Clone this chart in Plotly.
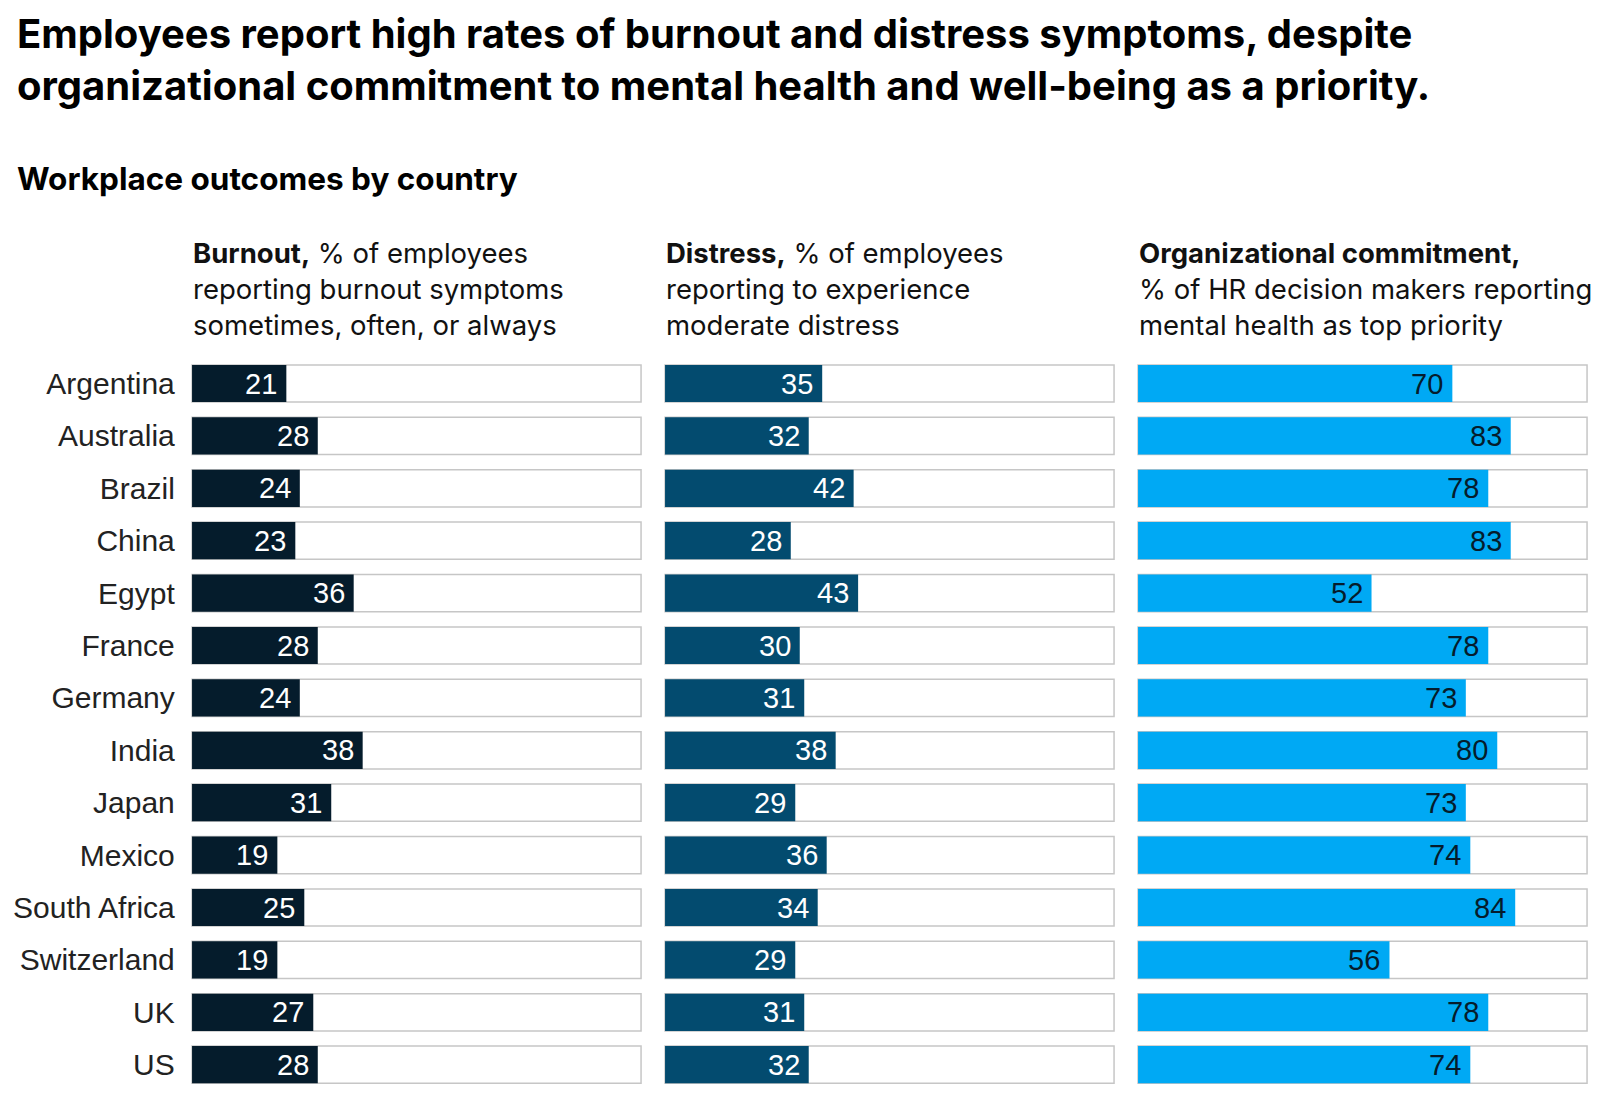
import plotly.graph_objects as go
from plotly.subplots import make_subplots

# Data
countries = ["Argentina", "Australia", "Brazil", "China", "Egypt", "France", "Germany",
             "India", "Japan", "Mexico", "South Africa", "Switzerland", "UK", "US"]
burnout = [21, 28, 24, 23, 36, 28, 24, 38, 31, 19, 25, 19, 27, 28]
distress = [35, 32, 42, 28, 43, 30, 31, 38, 29, 36, 34, 29, 31, 32]
commitment = [70, 83, 78, 83, 52, 78, 73, 80, 73, 74, 84, 56, 78, 74]

headers = [
    "<b>Burnout,</b> % of employees<br>reporting burnout symptoms<br>sometimes, often, or always",
    "<b>Distress,</b> % of employees<br>reporting to experience<br>moderate distress",
    "<b>Organizational commitment,</b><br>% of HR decision makers reporting<br>mental health as top priority",
]
bar_colors = ["#051c2c", "#034b6f", "#00a9f4"]
label_colors = ["white", "white", "#051c2c"]

W, H = 1596, 1104
HEAD_FONT = "Inter, 'Noto Sans', sans-serif"
BODY_FONT = "'Liberation Sans', Arial, sans-serif"

# pixel positions of each panel (left, right)
panels_px = [(181.8, 635.3), (654.8, 1108.3), (1127.8, 1581.3)]
y_top, y_bot = 349.3, 1082.9


def px_x(p):
    return p / W


def px_y(p):
    return 1 - p / H


fig = make_subplots(rows=1, cols=3, shared_yaxes=False)

series = [burnout, distress, commitment]
for i, vals in enumerate(series):
    col = i + 1
    # outline bar spanning 0-100
    fig.add_trace(go.Bar(
        x=[100] * len(countries), y=countries, orientation="h",
        marker=dict(color="white", line=dict(color="#c6c6c6", width=1.5)),
        width=0.71, hoverinfo="skip", showlegend=False
    ), row=1, col=col)
    fig.add_trace(go.Bar(
        x=vals, y=countries, orientation="h",
        marker=dict(color=bar_colors[i], line=dict(width=0)),
        width=0.71, showlegend=False
    ), row=1, col=col)

    xa = "xaxis" if i == 0 else f"xaxis{col}"
    ya = "yaxis" if i == 0 else f"yaxis{col}"
    fig.update_layout({
        xa: dict(domain=[px_x(panels_px[i][0]), px_x(panels_px[i][1])],
                 range=[-0.5, 100.5], visible=False, fixedrange=True),
        ya: dict(domain=[px_y(y_bot), px_y(y_top)],
                 categoryorder="array", categoryarray=countries,
                 range=[13.5, -0.5], showgrid=False, zeroline=False,
                 showline=False, ticks="", showticklabels=(i == 0),
                 ticklabelstandoff=14,
                 tickfont=dict(family=BODY_FONT, size=30, color="#222222")),
    })

    xref = "x" if i == 0 else f"x{col}"
    yref = "y" if i == 0 else f"y{col}"
    for c, v in zip(countries, vals):
        fig.add_annotation(
            x=v, y=c, xref=xref, yref=yref, text=str(v), showarrow=False,
            xanchor="right", yanchor="middle", xshift=-7,
            font=dict(family=BODY_FONT, size=29, color=label_colors[i])
        )

    # column header
    fig.add_annotation(
        x=px_x(panels_px[i][0] + 1), y=px_y(281), xref="paper", yref="paper",
        text=headers[i], showarrow=False, xanchor="left", yanchor="middle",
        align="left", font=dict(family=HEAD_FONT, size=27.5, color="#111111")
    )

# title and subtitle
fig.add_annotation(
    x=px_x(7), y=px_y(51), xref="paper", yref="paper",
    text="<b>Employees report high rates of burnout and distress symptoms, despite<br>"
         "organizational commitment to mental health and well-being as a priority.</b>",
    showarrow=False, xanchor="left", yanchor="middle", align="left",
    font=dict(family=HEAD_FONT, size=40, color="#000000")
)
fig.add_annotation(
    x=px_x(7), y=px_y(171), xref="paper", yref="paper",
    text="<b>Workplace outcomes by country</b>",
    showarrow=False, xanchor="left", yanchor="middle", align="left",
    font=dict(family=HEAD_FONT, size=31.5, color="#000000")
)

fig.update_layout(
    width=W, height=H,
    margin=dict(l=0, r=0, t=0, b=0),
    barmode="overlay",
    paper_bgcolor="white",
    plot_bgcolor="white",
    showlegend=False,
)

fig.write_html("out.html")
